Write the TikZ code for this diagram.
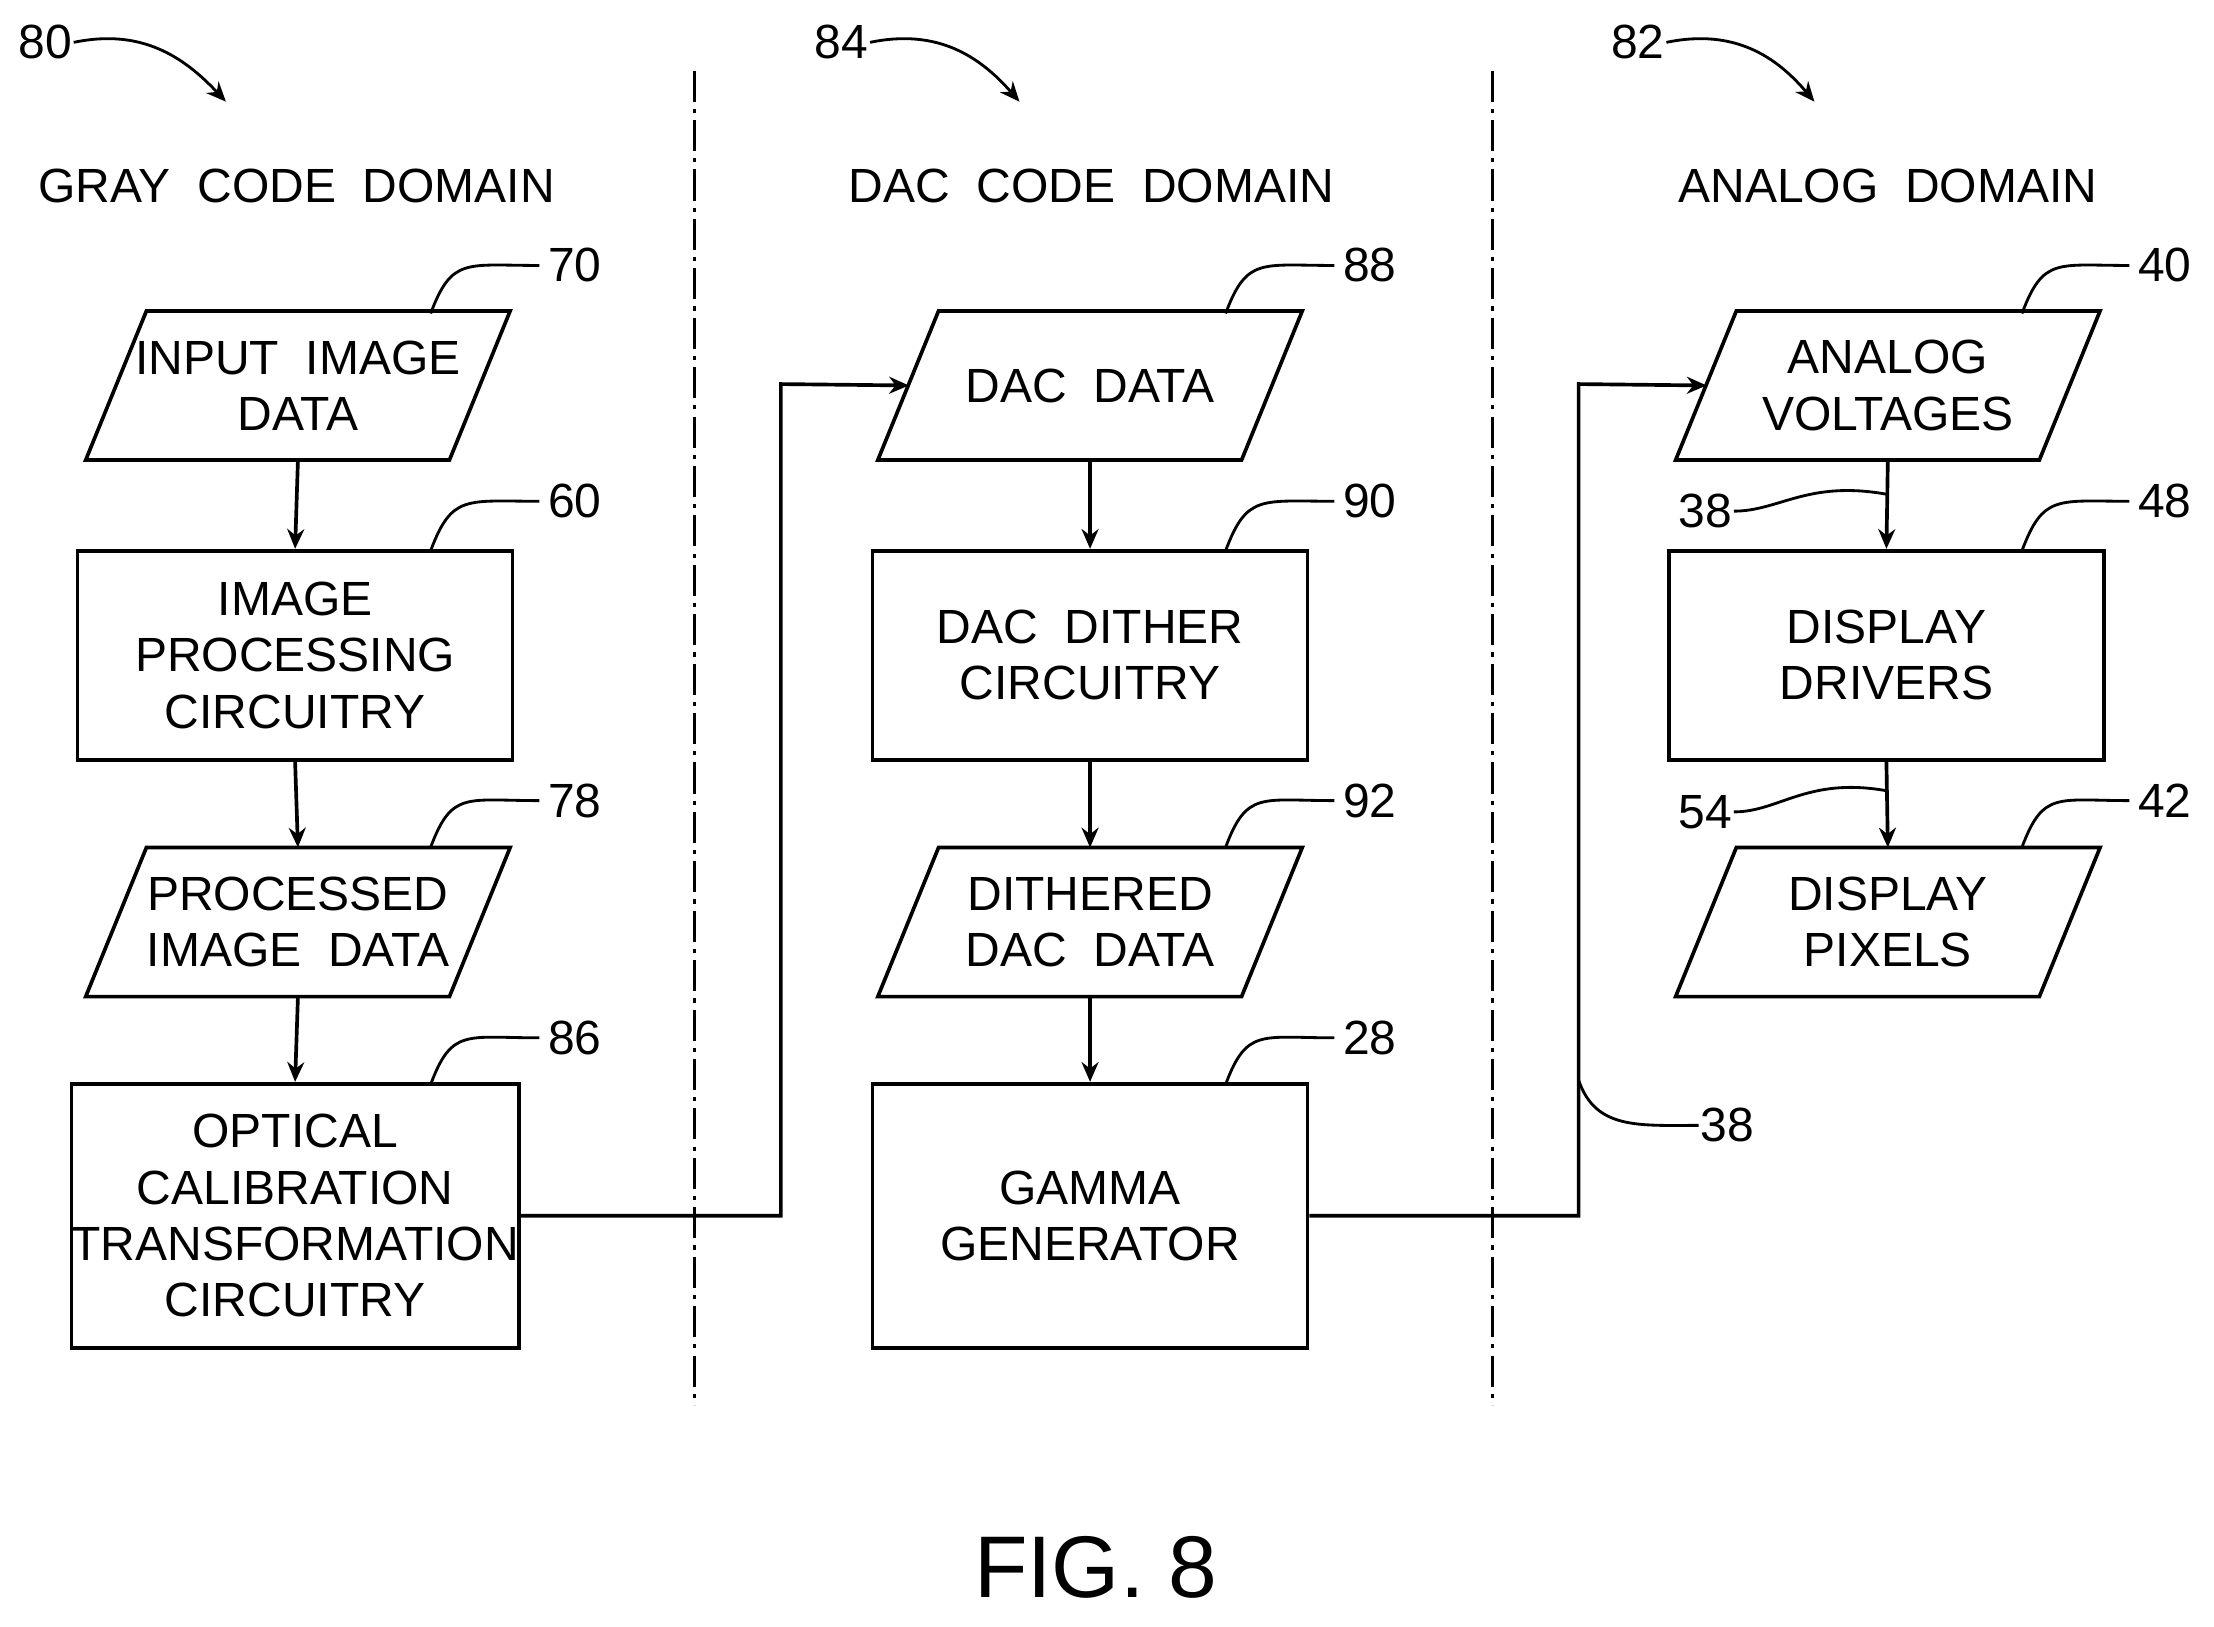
\documentclass[tikz,border=0pt]{standalone}
\usepackage{fontspec}
\setmainfont{Liberation Sans}
\usetikzlibrary{arrows.meta}
\begin{document}
\begin{tikzpicture}[x=1pt,y=-1pt,line width=2.6pt,
  txt/.style={font=\fontsize{34}{40}\selectfont,align=center,inner sep=0},
  box/.style={draw,minimum width=308,minimum height=148,inner sep=0,txt},
  pbox/.style={minimum width=298,minimum height=103,inner sep=0,txt},
  arr/.style={-{Stealth[length=14,width=12]}},
  lead/.style={line width=2pt},
  num/.style={font=\fontsize{34}{40}\selectfont,inner sep=0},
  sep/.style={line width=2pt,dash pattern=on 22pt off 5pt on 3pt off 5pt}]
\useasboundingbox (0,0) rectangle (1568,1152);
\newcommand\para[4]{\node[pbox] (#1) at (#2,#3) {#4};
  \draw ([xshift=43]#1.north west) -- (#1.north east) -- ([xshift=-43]#1.south east) -- (#1.south west) -- cycle;}
% separators
\draw[sep] (492,50) -- (492,995);
\draw[sep] (1057,50) -- (1057,995);
% titles
\node[txt] at (210,132) {GRAY\ \ CODE\ \ DOMAIN};
\node[txt] at (773,132) {DAC\ \ CODE\ \ DOMAIN};
\node[txt] at (1337,132) {ANALOG\ \ DOMAIN};
% left
\para{n70}{211}{273}{INPUT\ \ IMAGE\\DATA}
\node[box] (n60) at (209,464) {IMAGE\\PROCESSING\\CIRCUITRY};
\para{n78}{211}{653}{PROCESSED\\IMAGE\ \ DATA}
\node[box,minimum height=187] (n86) at (209,861) {OPTICAL\\CALIBRATION\\TRANSFORMATION\\CIRCUITRY};
% middle
\para{n88}{772}{273}{DAC\ \ DATA}
\node[box] (n90) at (772,464) {DAC\ \ DITHER\\CIRCUITRY};
\para{n92}{772}{653}{DITHERED\\DAC\ \ DATA}
\node[box,minimum height=187] (n28) at (772,861) {GAMMA\\GENERATOR};
% right
\para{n40}{1337}{273}{ANALOG\\VOLTAGES}
\node[box] (n48) at (1336,464) {DISPLAY\\DRIVERS};
\para{n42}{1337}{653}{DISPLAY\\PIXELS};
% vertical arrows
\foreach \a/\b in {n70/n60,n60/n78,n78/n86,n88/n90,n90/n92,n92/n28,n40/n48,n48/n42}
  \draw[arr] (\a.south) -- (\b.north);
% cross connectors
\coordinate (c1) at (553,861); \coordinate (c2) at (553,272);
\draw[arr] (n86.east) -- (c1) -- (c2) -- ([xshift=22]n88.west);
\coordinate (d1) at (1118,861); \coordinate (d2) at (1118,272);
\draw[arr] (n28.east) -- (d1) -- (d2) -- ([xshift=22]n40.west);
% domain labels
\node[num] (l80) at (32,30) {80};
\coordinate (e80) at (160,72);
\draw[lead,arr] (l80.east) .. controls (100,20) and (130,40) .. (e80);
\node[num] (l84) at (596,30) {84};
\coordinate (e84) at (722,72);
\draw[lead,arr] (l84.east) .. controls (664,20) and (694,40) .. (e84);
\node[num] (l82) at (1160,30) {82};
\coordinate (e82) at (1285,72);
\draw[lead,arr] (l82.east) .. controls (1228,20) and (1258,40) .. (e82);
% reference leaders
\newcommand\lbl[5]{\node[num,anchor=west] (#1) at (#2,#3) {#1};
  \coordinate (#1s) at (#4,#5);
  \draw[lead] (#1s) .. controls (#4+15,#5-40) and (#4+25,#3) .. (#2-5,#3);}
\lbl{70}{387}{188}{305}{222}
\lbl{60}{387}{355}{305}{390}
\lbl{78}{387}{567}{305}{600}
\lbl{86}{387}{735}{305}{768}
\lbl{88}{950}{188}{868}{222}
\lbl{90}{950}{355}{868}{390}
\lbl{92}{950}{567}{868}{600}
\lbl{28}{950}{735}{868}{768}
\lbl{40}{1513}{188}{1432}{222}
\lbl{48}{1513}{355}{1432}{390}
\lbl{42}{1513}{567}{1432}{600}
% 38 lower
\node[num,anchor=west] (l38b) at (1203,797) {38};
\coordinate (s38b) at (1118,765);
\draw[lead] (s38b) .. controls (1130,800) and (1160,797) .. (l38b.west);
% 38, 54 on arrows
\node[num,anchor=east] (l38a) at (1228,362) {38};
\coordinate (s38a) at (1336,350);
\draw[lead] (l38a.east) .. controls (1260,362) and (1280,340) .. (s38a);
\node[num,anchor=east] (l54) at (1228,575) {54};
\coordinate (s54) at (1336,560);
\draw[lead] (l54.east) .. controls (1260,575) and (1280,550) .. (s54);
% caption
\node[font=\fontsize{62}{70}\selectfont] (fig) at (776,1110) {FIG.\ 8};
\end{tikzpicture}
\end{document}
